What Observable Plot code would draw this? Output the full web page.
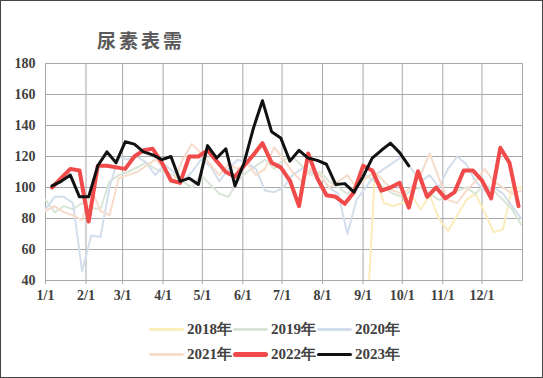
<!DOCTYPE html>
<html><head><meta charset="utf-8">
<script src="https://cdn.jsdelivr.net/npm/d3@7"></script>
<script src="https://cdn.jsdelivr.net/npm/@observablehq/plot@0.6"></script>
<style>
body{margin:0;background:#fff;}
#wrap{position:relative;width:543px;height:378px;overflow:hidden;background:#fff;}
#frame{position:absolute;left:0;top:0;width:543px;height:378px;box-sizing:border-box;border:1px solid #444;pointer-events:none;}
#title{position:absolute;left:97px;top:30px;font-family:"Noto Sans CJK SC",sans-serif;font-size:19px;line-height:20px;color:#5a5a5a;letter-spacing:3px;font-weight:bold;}
#chart{position:absolute;left:0;top:50px;}
.lt{position:absolute;font-family:"Liberation Serif",serif;font-weight:bold;font-size:15px;line-height:16px;color:#404040;}
.ll{position:absolute;}
</style>
</head><body>
<div id="wrap">
  <div id="title">尿素表需</div>
  <div id="chart"></div>
  <div id="legend"></div>
  <div id="frame"></div>
</div>
<script>
// ---- data ----
const monthLabels = ["1/1","2/1","3/1","4/1","5/1","6/1","7/1","8/1","9/1","10/1","11/1","12/1"];
const yTicks = [40,60,80,100,120,140,160,180];
const years = ["2018年","2019年","2020年","2021年","2022年","2023年"];
// day of year (Jan = 1) of each series' first weekly point
const startDays = [246, 1, 1, 1, 6, 6];

const v2018 = [0,108,90,88,90,95,86,95,80,72,82,92,96,84,71,73,100,100];
const v2019 = [92,84,88,86,90,87,86,104,108,110,113,116,112,110,108,104,100,108,102,96,94,104,110,114,118,112,118,120,114,108,110,104,100,96,102,108,104,100,96,94,98,100,96,92,94,98,100,96,102,98,92,86,76];
const v2020 = [86,94,94,90,46,69,68,100,120,118,120,116,108,115,110,104,110,118,114,104,112,118,116,112,98,97,100,108,112,110,108,100,96,70,92,100,108,112,116,120,112,104,108,100,112,120,115,104,98,100,96,88,80];
const v2021 = [85,88,84,82,79,99,85,82,106,108,110,114,118,112,104,118,128,122,115,108,115,112,116,108,112,126,118,110,104,112,108,100,104,108,100,106,110,104,98,96,100,108,122,106,92,90,98,104,112,104,100,96,98];
const v2022 = [100,106,112,111,78,114,114,113,112,120,124,125,116,104.5,103,120,120,124,117,110,107,114,121,128.6,116,113,104.5,88,122,106,95,94,89.5,97,114,111,98,100,103,87,110.5,94,100,93,97,111,111,104.5,93,125.6,116,88];
const v2023 = [101,104,108,94,94,114,123,116,129.5,128,123,121,118,120,104,106,102,127,119,125,101,116,138,156,136,132,117,124,119,117.5,115,102,102.5,97,107,119,124,128.6,122.5,114];

const colors = ["#fbecbb","#d9e6d7","#d3deec","#f7dccb","#f04a4a","#111111"];
const widths = [2,2,2,2,4,3];
// ---- build ----
const values = [v2018,v2019,v2020,v2021,v2022,v2023];
const rows = [];
values.forEach((vals, s) => vals.forEach((v, i) => rows.push({
  year: years[s],
  date: new Date(Date.UTC(2023, 0, startDays[s] + 7 * i)),
  value: v
})));
const monthDates = monthLabels.map(l => new Date(Date.UTC(2023, +l.split("/")[0] - 1, 1)));

const lineMarks = years.map((y, s) => Plot.line(rows.filter(r => r.year === y), {
  x: "date", y: "value", stroke: colors[s], strokeWidth: widths[s],
  strokeLinejoin: "round", strokeLinecap: "round", clip: true
}));

const chart = Plot.plot({
  width: 543, height: 262,
  marginTop: 13, marginBottom: 32, marginLeft: 45, marginRight: 21,
  x: {type: "utc", domain: [new Date(Date.UTC(2023,0,1)), new Date(Date.UTC(2024,0,1))]},
  y: {domain: [40, 180]},
  style: {fontFamily: "'Liberation Serif', serif", fontSize: "14px", fontWeight: "bold", color: "#404040", background: "transparent"},
  marks: [
    Plot.gridY(yTicks, {stroke: "#a8a8a8", strokeOpacity: 1}),
    Plot.gridX(monthDates, {stroke: "#a8a8a8", strokeOpacity: 1}),
    Plot.frame({stroke: "#a8a8a8"}),
    Plot.axisY(yTicks, {tickSize: 0, tickPadding: 10, label: null}),
    Plot.axisX(monthDates, {tickSize: 4, tickPadding: 6, stroke: "#a8a8a8",
      tickFormat: d => monthLabels[d.getUTCMonth()], label: null}),
    ...lineMarks
  ]
});
document.getElementById("chart").append(chart);

// ---- legend ----
const leg = document.getElementById("legend");
const legPos = [[149,329],[233,329],[317,329],[149,354],[233,354],[317,354]];
years.forEach((y, s) => {
  const [x, cy] = legPos[s];
  const lw = s === 4 ? 5 : 3;
  const line = document.createElement("div");
  line.className = "ll";
  line.style.cssText = `left:${x}px;top:${cy - lw/2}px;width:35px;height:${lw}px;background:${colors[s]};border-radius:${lw/2}px;`;
  leg.append(line);
  const t = document.createElement("div");
  t.className = "lt";
  t.style.left = (x + 38) + "px";
  t.style.top = (cy - 8) + "px";
  t.textContent = y;
  leg.append(t);
});
</script>
</body></html>
